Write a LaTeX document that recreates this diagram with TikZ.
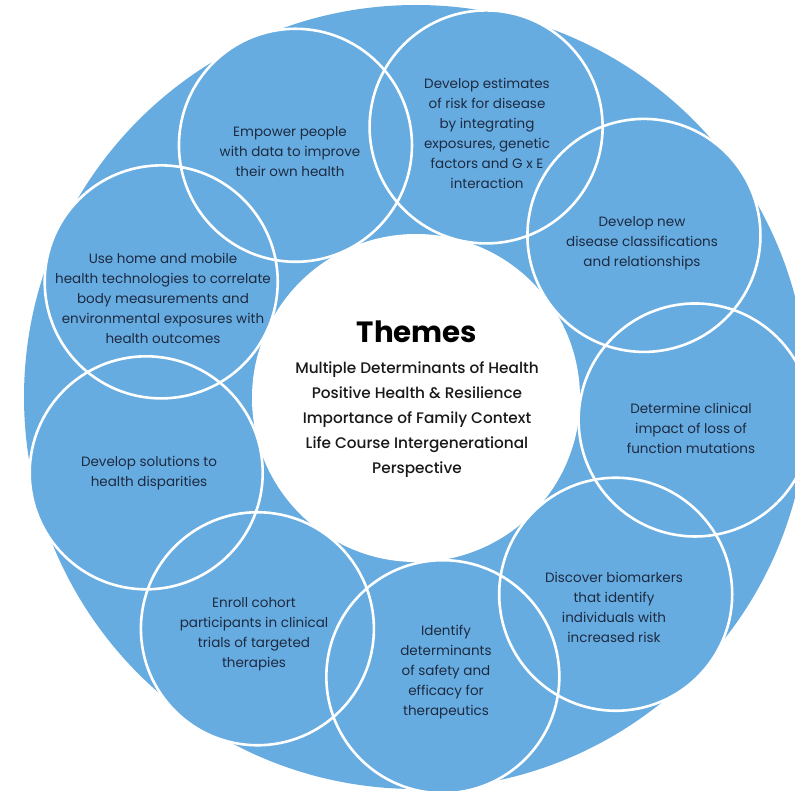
\documentclass[tikz,border=0pt]{standalone}
\usepackage{fontspec}
\setmainfont{Poppins}
\IfFontExistsTF{Poppins Medium}{\newfontfamily\medfont{Poppins Medium}\newcommand\themesize{\fontsize{15.3}{25}\selectfont}}{\newcommand\medfont{\bfseries}\newcommand\themesize{\fontsize{15}{25}\selectfont}}
\definecolor{ringblue}{RGB}{103,172,224}
\definecolor{navytext}{RGB}{28,42,66}
\definecolor{themetext}{RGB}{25,25,25}
\tikzset{
  ring/.style={circle, fill=ringblue, minimum size=233pt, inner sep=0pt, outer sep=0pt},
  ringline/.style={draw=white, line width=2.6pt},
  topic/.style={align=center, text=navytext, font=\fontsize{13.5}{20}\selectfont, inner sep=0pt},
  themeline/.style={align=center, text=themetext, font=\medfont\themesize, inner sep=0pt}
}
\begin{document}
\begin{tikzpicture}[x=1pt,y=-1pt]
\useasboundingbox (0,0) rectangle (795,791);
\clip (0,0) rectangle (795,791);
\fill[white] (0,0) rectangle (795,791);
\node[circle, fill=ringblue, minimum size=784pt, inner sep=0pt] (big) at (416,397) {};
\foreach \i in {1,...,9} {
  \pgfmathsetmacro{\ang}{115.5-40*(\i-1)}
  \node[ring] (c\i) at ({416+280*cos(\ang)},{398-280*sin(\ang)}) {};
}
\foreach \i in {1,...,9} {
  \draw[ringline] (c\i.center) circle (116.5);
}
\node[circle, fill=white, minimum size=328pt, inner sep=0pt] (hub) at (416,398) {};
% topic texts
\node[topic] (t1) at (290,152) {Empower people\\with data to improve\\their own health};
\node[topic] (t2) at (487,133) {Develop estimates\\of risk for disease\\by integrating\\exposures, genetic\\factors and G x E\\interaction};
\node[topic] (t3) at (642,243) {Develop new\\disease classifications\\and relationships};
\node[topic] (t4) at (691,428) {Determine clinical\\impact of loss of\\function mutations};
\node[topic] (t5) at (614,607) {Discover biomarkers\\that identify\\individuals with\\increased risk};
\node[topic] (t6) at (446,672) {Identify\\determinants\\of safety and\\efficacy for\\therapeutics};
\node[topic] (t7) at (254,634) {Enroll cohort\\participants in clinical\\trials of targeted\\therapies};
\node[topic] (t8) at (149,473) {Develop solutions to\\health disparities};
\node[topic] (t9) at (163,298) {Use home and mobile\\health technologies to correlate\\body measurements and\\environmental exposures with\\health outcomes};
% themes
\node[font=\bfseries\fontsize{29.3}{36}\selectfont, text=black, inner sep=0pt] (title) at (417,332) {Themes};
\node[themeline] (themes) at (417,420) {Multiple Determinants of Health\\Positive Health \& Resilience\\Importance of Family Context\\Life Course Intergenerational\\Perspective};
\end{tikzpicture}
\end{document}
